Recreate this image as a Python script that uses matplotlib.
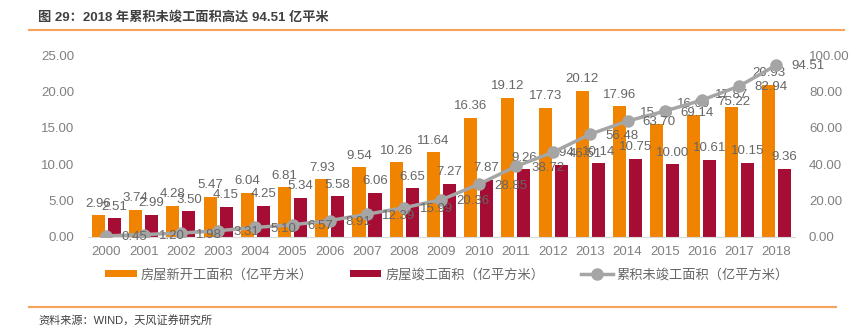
import matplotlib.pyplot as plt
import numpy as np

plt.rcParams['font.family'] = ['Liberation Sans', 'Noto Sans CJK SC']

years = [str(y) for y in range(2000, 2019)]
new_start = [2.96, 3.74, 4.28, 5.47, 6.04, 6.81, 7.93, 9.54, 10.26, 11.64,
             16.36, 19.12, 17.73, 20.12, 17.96, 15.45, 16.69, 17.87, 20.93]
completed = [2.51, 2.99, 3.50, 4.15, 4.25, 5.34, 5.58, 6.06, 6.65, 7.27,
             7.87, 9.26, 9.94, 10.14, 10.75, 10.00, 10.61, 10.15, 9.36]
unfinished = [0.45, 1.20, 1.98, 3.31, 5.10, 6.57, 8.91, 12.39, 15.99, 20.36,
              28.85, 38.72, 46.51, 56.48, 63.70, 69.14, 75.22, 82.94, 94.51]

orange = '#F08300'
red = '#A50D34'
gray = '#A5A5A5'
txt = '#666666'
tick = '#808080'

fig = plt.figure(figsize=(8.53, 3.32), dpi=100)
ax = fig.add_axes([0.103, 0.287, 0.829, 0.547])
ax2 = ax.twinx()

x = np.arange(len(years))
w = 0.35
b1 = ax.bar(x - 0.215, new_start, w, color=orange, label='房屋新开工面积（亿平方米）')
b2 = ax.bar(x + 0.215, completed, w, color=red, label='房屋竣工面积（亿平方米）')
ax.bar_label(b1, labels=['%.2f' % v for v in new_start], padding=4, fontsize=9.5, color=txt)
ax.bar_label(b2, labels=['%.2f' % v for v in completed], padding=4, fontsize=9.5, color=txt)

ln, = ax2.plot(x, unfinished, color=gray, lw=2.5, marker='o', markersize=8,
               label='累积未竣工面积（亿平方米）')
for xi, v in zip(x, unfinished):
    ax2.annotate('%.2f' % v, (xi, v), xytext=(11, -1), textcoords='offset points',
                 ha='left', va='center', fontsize=9.5, color=txt)

ax.set_xlim(-0.5, len(years) - 0.5)
ax.set_ylim(0, 25)
ax2.set_ylim(0, 100)
ax.set_yticks(np.arange(0, 26, 5))
ax.set_yticklabels(['%.2f' % v for v in np.arange(0, 26, 5)])
ax2.set_yticks(np.arange(0, 101, 20))
ax2.set_yticklabels(['%.2f' % v for v in np.arange(0, 101, 20)])
ax.set_xticks(x)
ax.set_xticklabels(years)

for a in (ax, ax2):
    for s in a.spines.values():
        s.set_visible(False)
    a.tick_params(length=0, colors=tick, labelsize=9.5)
ax.spines['bottom'].set_visible(True)
ax.spines['bottom'].set_color('#D9D9D9')
ax.tick_params(axis='y', pad=10)
ax.tick_params(axis='x', pad=7)
ax2.tick_params(axis='y', pad=10)
ax2.set_zorder(ax.get_zorder() + 1)
ax2.patch.set_visible(False)

fig.legend(handles=[b1, b2, ln], loc='center', bbox_to_anchor=(0.524, 0.172), ncol=3,
           frameon=False, fontsize=9.5, labelcolor=txt, handlelength=2.4,
           handleheight=0.5, columnspacing=2.8, handletextpad=0.3)

fig.text(0.045, 0.948, '图 29：2018 年累积未竣工面积高达 94.51 亿平米', fontsize=9.5,
         color='#404040', fontweight='bold', va='center')
fig.add_artist(plt.Line2D([0.034, 0.99], [0.911, 0.911], color='#F7A35C', lw=1.5))
fig.add_artist(plt.Line2D([0.034, 0.98], [0.075, 0.075], color='#F7A35C', lw=1.5))
fig.text(0.045, 0.036, '资料来源：WIND，天风证券研究所', fontsize=8, color='#404040', va='center')

fig.savefig('out.png', dpi=100)
